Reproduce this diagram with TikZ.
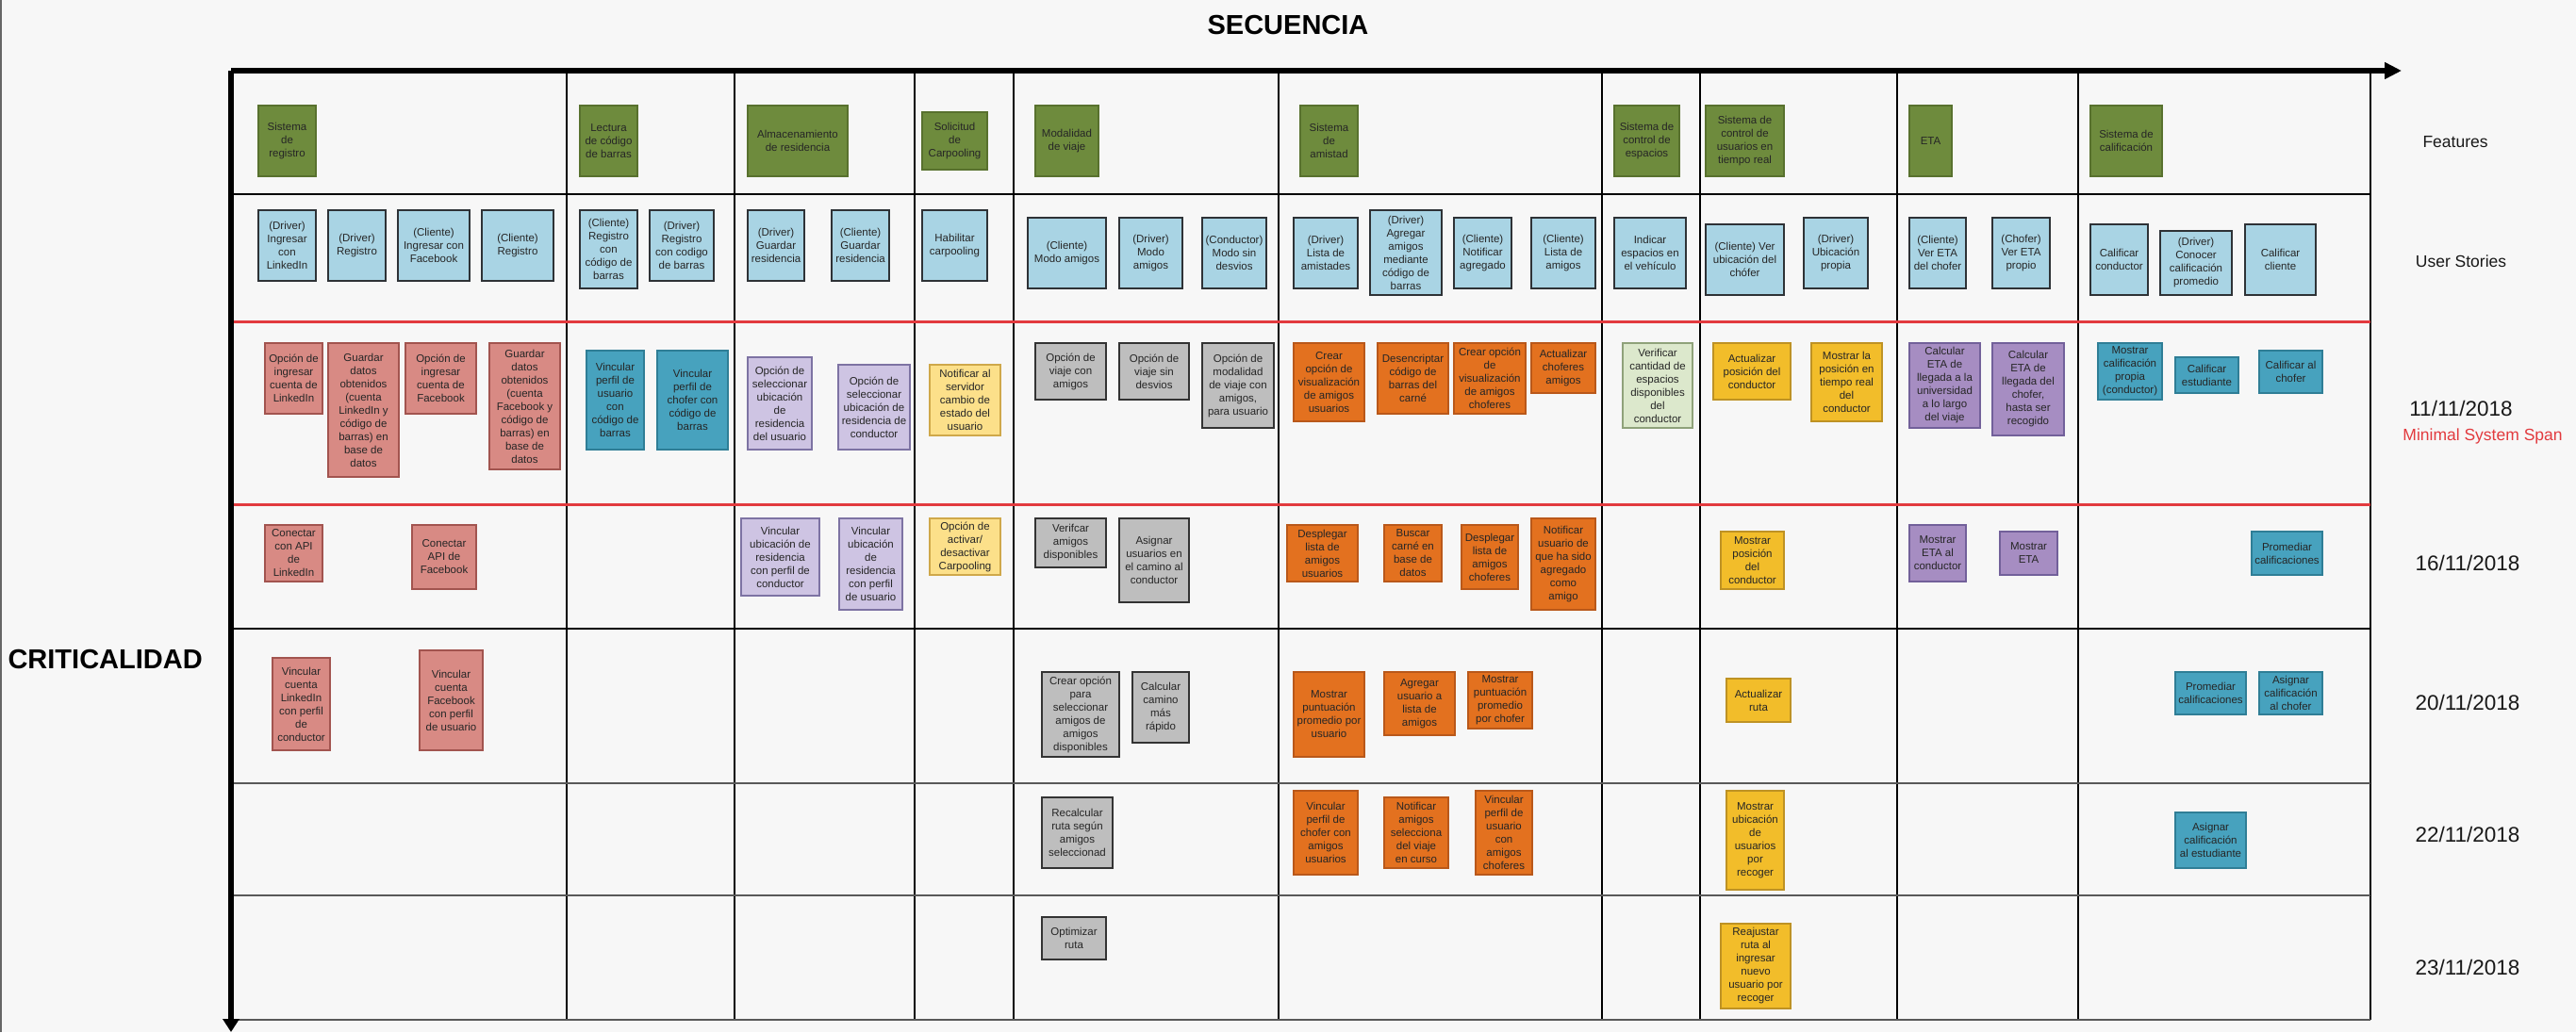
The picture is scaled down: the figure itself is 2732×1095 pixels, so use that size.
\documentclass[tikz,border=0pt]{standalone}
\usepackage{fontspec}
\setmainfont{Liberation Sans}
\usetikzlibrary{arrows.meta}
\definecolor{bgc}{HTML}{F7F7F7}
\definecolor{featF}{HTML}{6E8B3D}\definecolor{featD}{HTML}{58712E}
\definecolor{storyF}{HTML}{A9D4E4}\definecolor{storyD}{HTML}{2E3236}
\definecolor{salF}{HTML}{D88A84}\definecolor{salD}{HTML}{A2544F}
\definecolor{tealF}{HTML}{47A2BE}\definecolor{tealD}{HTML}{2F7E96}
\definecolor{lavF}{HTML}{CEC4E3}\definecolor{lavD}{HTML}{7D73A3}
\definecolor{lyelF}{HTML}{FCE08A}\definecolor{lyelD}{HTML}{CFA84A}
\definecolor{grayF}{HTML}{BEBEBE}\definecolor{grayD}{HTML}{333333}
\definecolor{orF}{HTML}{E3711F}\definecolor{orD}{HTML}{B9581A}
\definecolor{pgrF}{HTML}{DCE8CC}\definecolor{pgrD}{HTML}{8FA27A}
\definecolor{yelF}{HTML}{F2BD2A}\definecolor{yelD}{HTML}{BE9224}
\definecolor{purF}{HTML}{A68DC2}\definecolor{purD}{HTML}{72609A}
\definecolor{redl}{HTML}{E23A3E}
\definecolor{txt}{HTML}{262626}
\tikzset{
  card/.style={draw, line width=1.3pt, inner sep=1pt, align=center,
    font=\fontsize{11.5}{14}\selectfont, text=txt},
  feat/.style={fill=featF, draw=featD},
  story/.style={fill=storyF, draw=storyD, line width=1.8pt},
  sal/.style={fill=salF, draw=salD},
  teal/.style={fill=tealF, draw=tealD},
  lav/.style={fill=lavF, draw=lavD},
  lyel/.style={fill=lyelF, draw=lyelD},
  grey/.style={fill=grayF, draw=grayD, line width=1.8pt},
  orng/.style={fill=orF, draw=orD},
  pgr/.style={fill=pgrF, draw=pgrD},
  yel/.style={fill=yelF, draw=yelD},
  pur/.style={fill=purF, draw=purD},
  gridk/.style={draw=black, line width=1.5pt},
  gridg/.style={draw=black!65, line width=2pt},
  redrow/.style={draw=redl, line width=3pt},
  axis/.style={line width=5.5pt, draw=black},
  lbl/.style={font=\fontsize{17.5}{20}\selectfont, text=black!90},
  datelbl/.style={font=\fontsize{22.5}{26}\selectfont, text=black!90},
  title/.style={font=\fontsize{29}{33}\selectfont\bfseries, text=black}
}
\newcommand\crd[7]{%
  \pgfmathsetmacro\mycw{#5-#3}\pgfmathsetmacro\mych{#6-#4}%
  \pgfmathsetmacro\mycx{(#3+#5)/2}\pgfmathsetmacro\mycy{(#4+#6)/2}%
  \node[card,#2,minimum width=\mycw pt,minimum height=\mych pt] (#1) at (\mycx,\mycy) {#7};}
\begin{document}
\begin{tikzpicture}[x=1pt,y=-1pt]
\fill[bgc] (0,0) rectangle (2732,1095);
\useasboundingbox (0,0) rectangle (2732,1095);
\draw[black!60, line width=1.5pt] (1,0) -- (1,1095);
% grid
\foreach \gx in {601,779,970,1075,1356,1699,1803,2012,2204,2514}
  \draw[gridk] (\gx,75) -- (\gx,1082);
\draw[gridk] (245,206) -- (2514,206);
\draw[gridk] (245,667) -- (2514,667);
\draw[gridg] (245,831) -- (2514,831);
\draw[gridg] (245,950) -- (2514,950);
\draw[gridg] (245,1082) -- (2514,1082);
\draw[redrow] (245,341) -- (2514,341);
\draw[redrow] (245,535) -- (2514,535);
% axes
\coordinate (org) at (245,75);
\coordinate (xend) at (2547,75);
\coordinate (yend) at (245,1095);
\draw[axis, -{Triangle[length=18pt,width=17pt]}] (org) -- (xend);
\draw[axis, -{Triangle[length=14pt,width=17pt]}] (org) -- (yend);
% titles
\node[title] (sec) at (1366,27) {SECUENCIA};
\node[title, anchor=west] (crit) at (5,700) {CRITICALIDAD};
\node[lbl] (lfeat) at (2604,151) {Features};
\node[lbl] (lus) at (2610,277) {User Stories};
\node[datelbl] (d1) at (2610,433) {11/11/2018};
\node[lbl, text=redl] (mss) at (2633,463) {Minimal System Span};
\node[datelbl] (d2) at (2617,597) {16/11/2018};
\node[datelbl] (d3) at (2617,745) {20/11/2018};
\node[datelbl] (d4) at (2617,885) {22/11/2018};
\node[datelbl] (d5) at (2617,1026) {23/11/2018};
% features
\crd{f1}{feat}{274}{112}{335}{187}{Sistema\\de\\registro}
\crd{f2}{feat}{615}{112}{676}{187}{Lectura\\de código\\de barras}
\crd{f3}{feat}{793}{112}{899}{187}{Almacenamiento\\de residencia}
\crd{f4}{feat}{978}{119}{1047}{180}{Solicitud\\de\\Carpooling}
\crd{f5}{feat}{1098}{112}{1165}{187}{Modalidad\\de viaje}
\crd{f6}{feat}{1379}{112}{1440}{187}{Sistema\\de\\amistad}
\crd{f7}{feat}{1712}{112}{1781}{187}{Sistema de\\control de\\espacios}
\crd{f8}{feat}{1809}{112}{1892}{187}{Sistema de\\control de\\usuarios en\\tiempo real}
\crd{f9}{feat}{2025}{112}{2070}{187}{ETA}
\crd{f10}{feat}{2217}{112}{2293}{187}{Sistema de\\calificación}
% user stories
\crd{s1}{story}{274}{223}{335}{298}{(Driver)\\Ingresar\\con\\LinkedIn}
\crd{s2}{story}{348}{223}{409}{298}{(Driver)\\Registro}
\crd{s3}{story}{422}{223}{498}{298}{(Cliente)\\Ingresar con\\Facebook}
\crd{s4}{story}{511}{223}{587}{298}{(Cliente)\\Registro}
\crd{s5}{story}{615}{223}{676}{306}{(Cliente)\\Registro\\con\\código de\\barras}
\crd{s6}{story}{689}{223}{757}{298}{(Driver)\\Registro\\con codigo\\de barras}
\crd{s7}{story}{793}{223}{853}{298}{(Driver)\\Guardar\\residencia}
\crd{s8}{story}{882}{223}{943}{298}{(Cliente)\\Guardar\\residencia}
\crd{s9}{story}{978}{223}{1047}{298}{Habilitar\\carpooling}
\crd{s10}{story}{1090}{231}{1173}{306}{(Cliente)\\Modo amigos}
\crd{s11}{story}{1187}{231}{1254}{306}{(Driver)\\Modo\\amigos}
\crd{s12}{story}{1275}{231}{1343}{306}{(Conductor)\\Modo sin\\desvios}
\crd{s13}{story}{1372}{231}{1440}{306}{(Driver)\\Lista de\\amistades}
\crd{s14}{story}{1453}{223}{1529}{313}{(Driver)\\Agregar\\amigos\\mediante\\código de\\barras}
\crd{s15}{story}{1542}{231}{1603}{306}{(Cliente)\\Notificar\\agregado}
\crd{s16}{story}{1624}{231}{1692}{306}{(Cliente)\\Lista de\\amigos}
\crd{s17}{story}{1712}{231}{1788}{306}{Indicar\\espacios en\\el vehículo}
\crd{s18}{story}{1809}{238}{1892}{313}{(Cliente) Ver\\ubicación del\\chófer}
\crd{s19}{story}{1913}{231}{1981}{306}{(Driver)\\Ubicación\\propia}
\crd{s20}{story}{2025}{231}{2085}{306}{(Cliente)\\Ver ETA\\del chofer}
\crd{s21}{story}{2113}{231}{2174}{306}{(Chofer)\\Ver ETA\\propio}
\crd{s22}{story}{2217}{238}{2278}{313}{Calificar\\conductor}
\crd{s23}{story}{2291}{245}{2367}{313}{(Driver)\\Conocer\\calificación\\promedio}
\crd{s24}{story}{2381}{238}{2456}{313}{Calificar\\cliente}
% 11/11/2018
\crd{a1}{sal}{281}{364}{342}{439}{Opción de\\ingresar\\cuenta de\\LinkedIn}
\crd{a2}{sal}{348}{364}{423}{506}{Guardar\\datos\\obtenidos\\(cuenta\\LinkedIn y\\código de\\barras) en\\base de\\datos}
\crd{a3}{sal}{430}{364}{505}{439}{Opción de\\ingresar\\cuenta de\\Facebook}
\crd{a4}{sal}{519}{364}{594}{498}{Guardar\\datos\\obtenidos\\(cuenta\\Facebook y\\código de\\barras) en\\base de\\datos}
\crd{a5}{teal}{622}{372}{683}{477}{Vincular\\perfil de\\usuario\\con\\código de\\barras}
\crd{a6}{teal}{697}{372}{772}{477}{Vincular\\perfil de\\chofer con\\código de\\barras}
\crd{a7}{lav}{793}{379}{861}{477}{Opción de\\seleccionar\\ubicación\\de\\residencia\\del usuario}
\crd{a8}{lav}{889}{387}{965}{477}{Opción de\\seleccionar\\ubicación de\\residencia de\\conductor}
\crd{a9}{lyel}{986}{387}{1061}{462}{Notificar al\\servidor\\cambio de\\estado del\\usuario}
\crd{a10}{grey}{1098}{364}{1173}{424}{Opción de\\viaje con\\amigos}
\crd{a11}{grey}{1187}{364}{1261}{424}{Opción de\\viaje sin\\desvios}
\crd{a12}{grey}{1275}{364}{1351}{454}{Opción de\\modalidad\\de viaje con\\amigos,\\para usuario}
\crd{a13}{orng}{1372}{364}{1447}{447}{Crear\\opción de\\visualización\\de amigos\\usuarios}
\crd{a14}{orng}{1461}{364}{1536}{439}{Desencriptar\\código de\\barras del\\carné}
\crd{a15}{orng}{1542}{364}{1618}{439}{Crear opción\\de\\visualización\\de amigos\\choferes}
\crd{a16}{orng}{1624}{364}{1692}{417}{Actualizar\\choferes\\amigos}
\crd{a17}{pgr}{1721}{364}{1795}{454}{Verificar\\cantidad de\\espacios\\disponibles\\del\\conductor}
\crd{a18}{yel}{1817}{364}{1899}{424}{Actualizar\\posición del\\conductor}
\crd{a19}{yel}{1921}{364}{1996}{447}{Mostrar la\\posición en\\tiempo real\\del\\conductor}
\crd{a20}{pur}{2025}{364}{2100}{454}{Calcular\\ETA de\\llegada a la\\universidad\\a lo largo\\del viaje}
\crd{a21}{pur}{2113}{364}{2189}{462}{Calcular\\ETA de\\llegada del\\chofer,\\hasta ser\\recogido}
\crd{a22}{teal}{2225}{364}{2293}{424}{Mostrar\\calificación\\propia\\(conductor)}
\crd{a23}{teal}{2307}{379}{2374}{417}{Calificar\\estudiante}
\crd{a24}{teal}{2396}{372}{2463}{417}{Calificar al\\chofer}
% 16/11/2018
\crd{b1}{sal}{281}{557}{342}{617}{Conectar\\con API\\de\\LinkedIn}
\crd{b2}{sal}{437}{557}{505}{625}{Conectar\\API de\\Facebook}
\crd{b3}{lav}{786}{550}{869}{632}{Vincular\\ubicación de\\residencia\\con perfil de\\conductor}
\crd{b4}{lav}{890}{550}{957}{647}{Vincular\\ubicación\\de\\residencia\\con perfil\\de usuario}
\crd{b5}{lyel}{986}{550}{1061}{610}{Opción de\\activar/\\desactivar\\Carpooling}
\crd{b6}{grey}{1098}{550}{1173}{602}{Verifcar\\amigos\\disponibles}
\crd{b7}{grey}{1187}{550}{1261}{639}{Asignar\\usuarios en\\el camino al\\conductor}
\crd{b8}{orng}{1365}{557}{1440}{617}{Desplegar\\lista de\\amigos\\usuarios}
\crd{b9}{orng}{1468}{557}{1529}{617}{Buscar\\carné en\\base de\\datos}
\crd{b10}{orng}{1550}{557}{1610}{625}{Desplegar\\lista de\\amigos\\choferes}
\crd{b11}{orng}{1624}{550}{1692}{647}{Notificar\\usuario de\\que ha sido\\agregado\\como\\amigo}
\crd{b12}{yel}{1825}{564}{1892}{625}{Mostrar\\posición\\del\\conductor}
\crd{b13}{pur}{2025}{557}{2085}{617}{Mostrar\\ETA al\\conductor}
\crd{b14}{pur}{2121}{564}{2182}{610}{Mostrar\\ETA}
\crd{b15}{teal}{2388}{564}{2463}{610}{Promediar\\calificaciones}
% 20/11/2018
\crd{c1}{sal}{289}{698}{350}{796}{Vincular\\cuenta\\LinkedIn\\con perfil\\de\\conductor}
\crd{c2}{sal}{445}{690}{512}{796}{Vincular\\cuenta\\Facebook\\con perfil\\de usuario}
\crd{c3}{grey}{1105}{713}{1187}{803}{Crear opción\\para\\seleccionar\\amigos de\\amigos\\disponibles}
\crd{c4}{grey}{1201}{713}{1261}{788}{Calcular\\camino\\más\\rápido}
\crd{c5}{orng}{1372}{713}{1447}{803}{Mostrar\\puntuación\\promedio por\\usuario}
\crd{c6}{orng}{1468}{713}{1543}{780}{Agregar\\usuario a\\lista de\\amigos}
\crd{c7}{orng}{1557}{713}{1625}{773}{Mostrar\\puntuación\\promedio\\por chofer}
\crd{c8}{yel}{1831}{720}{1899}{766}{Actualizar\\ruta}
\crd{c9}{teal}{2307}{713}{2382}{758}{Promediar\\calificaciones}
\crd{c10}{teal}{2396}{713}{2463}{758}{Asignar\\calificación\\al chofer}
% 22/11/2018
\crd{e1}{grey}{1105}{846}{1180}{921}{Recalcular\\ruta según\\amigos\\seleccionad}
\crd{e2}{orng}{1372}{839}{1440}{928}{Vincular\\perfil de\\chofer con\\amigos\\usuarios}
\crd{e3}{orng}{1468}{846}{1536}{921}{Notificar\\amigos\\selecciona\\del viaje\\en curso}
\crd{e4}{orng}{1565}{839}{1625}{928}{Vincular\\perfil de\\usuario\\con\\amigos\\choferes}
\crd{e5}{yel}{1831}{839}{1892}{944}{Mostrar\\ubicación\\de\\usuarios\\por\\recoger}
\crd{e6}{teal}{2307}{862}{2382}{921}{Asignar\\calificación\\al estudiante}
% 23/11/2018
\crd{g1}{grey}{1105}{973}{1173}{1018}{Optimizar\\ruta}
\crd{g2}{yel}{1825}{980}{1899}{1070}{Reajustar\\ruta al\\ingresar\\nuevo\\usuario por\\recoger}
\end{tikzpicture}
\end{document}
